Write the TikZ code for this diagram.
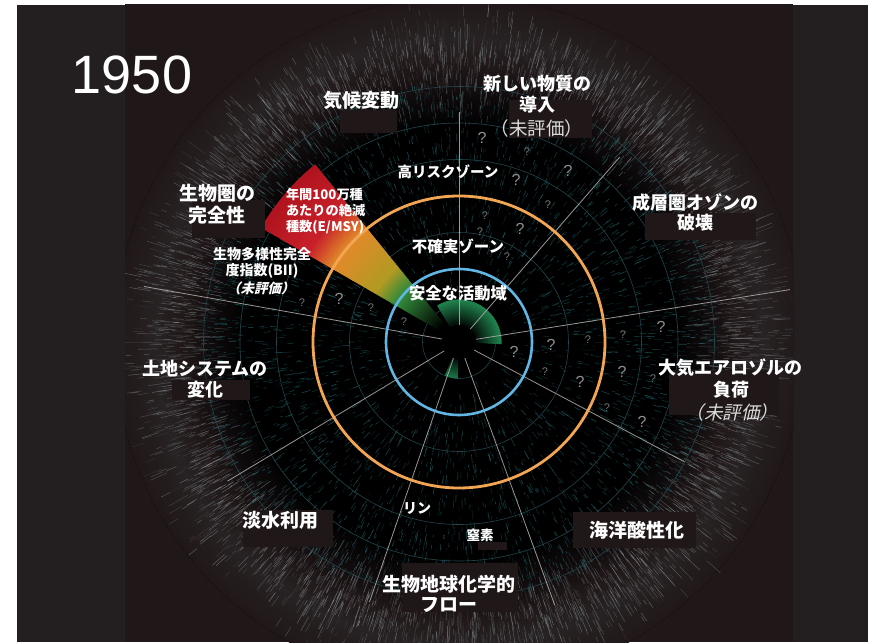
\documentclass[tikz,border=0pt]{standalone}
\usepackage{fontspec}
\newfontfamily\jp[AutoFakeSlant=0.22]{Noto Sans CJK JP}
\newfontfamily\lsans{Liberation Sans}
\definecolor{bgc}{HTML}{201718}
\definecolor{sidec}{HTML}{231F20}
\definecolor{darkc}{HTML}{0F0B0C}
\definecolor{hazec}{HTML}{272223}
\definecolor{blue1}{HTML}{62B6E4}
\definecolor{orng}{HTML}{F2A654}
\definecolor{gridc}{HTML}{24454B}
\definecolor{linec}{HTML}{B4B0AE}
\definecolor{qc}{HTML}{8E8E8E}
\definecolor{qcs}{HTML}{767676}
\definecolor{teal1}{HTML}{2A8C96}
\definecolor{streakc}{HTML}{A8BABC}
\definecolor{subc}{HTML}{DCDCDC}
\definecolor{cG}{HTML}{328A3A}
\definecolor{cY}{HTML}{B39A22}
\definecolor{cO}{HTML}{E08A2A}
\definecolor{cR}{HTML}{C8202A}
\definecolor{cRR}{HTML}{B0141E}
\definecolor{gB}{HTML}{1F7F4C}
\definecolor{gBB}{HTML}{1A6E45}
\pgfdeclareradialshading{vign}{\pgfpoint{0bp}{0bp}}{color(0bp)=(black); color(15.5bp)=(black); color(18bp)=(darkc); color(20bp)=(bgc); color(22bp)=(hazec); color(25bp)=(bgc); color(50bp)=(bgc)}
% #1 a1, #2 a2, #3 r0, #4 r1, #5 steps, #6 c0, #7 c1
\newcommand\gradseg[7]{%
  \foreach \k in {0,...,#5}{%
    \pgfmathsetmacro\ra{#3+(#4-#3)*\k/(#5+1)}%
    \pgfmathsetmacro\rb{#3+(#4-#3)*(\k+1)/(#5+1)+0.6}%
    \pgfmathtruncatemacro\pp{100*\k/#5}%
    \fill[#7!\pp!#6] (#1:\ra) arc[start angle=#1,end angle=#2,radius=\ra] -- (#2:\rb) arc[start angle=#2,end angle=#1,radius=\rb] -- cycle;
  }}
\tikzset{
  every node/.style={inner sep=0pt, outer sep=0pt},
  big/.style={text=white, font=\jp\bfseries\fontsize{18}{18}\selectfont},
  bigg/.style={text=white, font=\jp\bfseries\fontsize{19}{19}\selectfont},
  zone/.style={text=white, font=\jp\bfseries\fontsize{#1}{#1}\selectfont},
  smallb/.style={text=white, font=\jp\bfseries\fontsize{#1}{#1}\selectfont},
  sub/.style={text=subc, font=\jp\fontsize{18.5}{18.5}\selectfont},
  subit/.style={text=subc, font=\jp\itshape\fontsize{18.5}{18.5}\selectfont},
  qL/.style={text=qc, font=\lsans\fontsize{16}{16}\selectfont},
  qS/.style={text=qcs, font=\lsans\fontsize{11}{11}\selectfont},
  rline/.style={linec, line width=0.8pt, draw opacity=0.85},
  gridcirc/.style={gridc, line width=0.6pt},
}
\begin{document}
\begin{tikzpicture}[x=1pt,y=1pt]
\useasboundingbox (0,0) rectangle (876,-643);
\fill[white] (0,0) rectangle (876,-643);
% panels
\fill[sidec] (17,-5) rectangle (125,-642);
\fill[bgc] (125,-4) rectangle (793,-642);
\fill[sidec] (793,-5) rectangle (868,-642);
% texture
\begin{scope}
\clip (125,-4) rectangle (793,-642);
\begin{scope}[shift={(459,-342)}]
\fill[shading=vign] (0,0) circle (345);
\pgfmathsetseed{4242}
\foreach \i in {1,...,5000}{%
  \pgfmathsetmacro\a{360*rnd}%
  \pgfmathsetmacro\r{212+43*(rnd+rnd+rnd)}%
  \pgfmathsetmacro\l{5+22*rnd*rnd}%
  \pgfmathsetmacro\o{0.07+0.38*rnd}%
  \draw[streakc, line width=0.5pt, draw opacity=\o] (\a:\r) -- (\a:{\r+\l});
}
\foreach \i in {1,...,3800}{%
  \pgfmathsetmacro\a{360*rnd}%
  \pgfmathsetmacro\r{35+222*sqrt(rnd)}%
  \pgfmathsetmacro\l{2+7*rnd}%
  \pgfmathsetmacro\o{0.14+0.42*rnd}%
  \draw[teal1, line width=0.55pt, draw opacity=\o] (\a:\r) -- (\a:{\r+\l});
}
\end{scope}
\end{scope}
% diagram
\begin{scope}[shift={(459,-342)}]
\foreach \rr in {36.5,109.5,182.5,219,255.5} \draw[gridcirc] (0,0) circle (\rr);
% green safe areas
\gradseg{-3}{121}{14}{42}{12}{black}{gB}
\gradseg{-113}{-92}{14}{36}{10}{black}{gBB}
% E/MSY wedge
\gradseg{129}{150}{22}{73}{20}{black}{cG}
\gradseg{129}{150}{73}{98}{10}{cG}{cY}
\gradseg{129}{150}{98}{145}{18}{cY}{cO}
\gradseg{129}{150}{145}{176}{12}{cO}{cR}
\gradseg{129}{150}{176}{228}{16}{cR}{cRR}
% radial lines
\foreach \ang/\len in {90/230, 49/245, 9/335, -28/255, -70/280, -109/275, -149/270, 170/320}
  \draw[rline] (\ang:17) -- (\ang:\len);
\draw[blue1, line width=2.6pt] (0,0) circle (73);
\draw[orng, line width=2.8pt] (0,0) circle (146);
\fill[black] (0,0) circle (17);
\end{scope}
% question marks
\node[qL] (q1) at (482,-138) {?};
\node[qS] (q2) at (527,-152) {?};
\node[qL] (q3) at (568,-171) {?};
\node[qL] (q4) at (516,-180) {?};
\node[qS] (q5) at (548,-205) {?};
\node[qS] (q6) at (485,-216) {?};
\node[qL] (q7) at (520,-229) {?};
\node[qS] (q8) at (507,-257) {?};
\node[qS] (q9) at (480,-232) {?};
\node[qL] (q10) at (661,-327) {?};
\node[qS] (q11) at (623,-335) {?};
\node[qS] (q12) at (588,-340) {?};
\node[qL] (q13) at (551,-345) {?};
\node[qL] (q14) at (514,-352) {?};
\node[qS] (q15) at (545,-372) {?};
\node[qL] (q16) at (580,-382) {?};
\node[qL] (q17) at (622,-372) {?};
\node[qS] (q18) at (653,-379) {?};
\node[qS] (q19) at (607,-408) {?};
\node[qL] (q20) at (642,-422) {?};
\node[qS] (q21) at (302,-303) {?};
\node[qL] (q22) at (339,-299) {?};
\node[qS] (q23) at (371,-308) {?};
\node[qS] (q24) at (404,-322) {?};
% label backing blocks
\fill[bgc] (340,-110) rectangle (397,-133);
\fill[bgc] (509,-100) rectangle (592,-138);
\fill[bgc] (645,-213) rectangle (756,-240);
\fill[bgc] (192,-200) rectangle (265,-238);
\fill[bgc] (172,-380) rectangle (250,-400);
\fill[bgc] (243,-510) rectangle (333,-547);
\fill[bgc] (478,-542) rectangle (507,-550);
\fill[bgc] (402,-563) rectangle (518,-612);
\fill[bgc] (573,-512) rectangle (696,-548);
\fill[bgc] (669,-370) rectangle (779,-415);
% labels
\node[text=white, font=\lsans\fontsize{54}{54}\selectfont] (yr) at (132,-75) {1950};
\node[bigg] (cc) at (361,-100) {気候変動};
\node[big] (ne1) at (537,-84) {新しい物質の};
\node[big] (ne2) at (537,-105) {導入};
\node[sub] (ne3) at (537,-128) {（未評価）};
\node[zone=14.5] (hr) at (448,-172) {高リスクゾーン};
\node[zone=15.5] (uz) at (458,-246) {不確実ゾーン};
\node[zone=16.3] (sz) at (458,-293) {安全な活動域};
\node[big] (oz1) at (695,-203) {成層圏オゾンの};
\node[big] (oz2) at (695,-223) {破壊};
\node[bigg] (bi1) at (217,-193) {生物圏の};
\node[bigg] (bi2) at (217,-215) {完全性};
\node[smallb=13.2, anchor=west] (em1) at (286,-194) {年間100万種};
\node[smallb=13.2, anchor=west] (em2) at (286,-210) {あたりの絶滅};
\node[smallb=13.2, anchor=west] (em3) at (286,-227) {種数(E/MSY)};
\node[smallb=14] (bii1) at (262,-254) {生物多様性完全};
\node[smallb=14] (bii2) at (262,-271) {度指数(BII)};
\begin{scope}[shift={(262,-288)}, xslant=0.24]
\node[smallb=13.5, transform shape] (bii3) at (0,0) {（未評価）};
\end{scope}
\node[big] (ls1) at (205,-368) {土地システムの};
\node[big] (ls2) at (205,-390) {変化};
\node[bigg] (fw) at (280,-520) {淡水利用};
\node[smallb=14] (pp) at (417,-508) {リン};
\node[smallb=13.5] (nn) at (480,-535) {窒素};
\node[bigg] (bg1) at (449,-584) {生物地球化学的};
\node[bigg] (bg2) at (449,-605) {フロー};
\node[bigg] (oa) at (637,-530) {海洋酸性化};
\node[big] (ae1) at (730,-368) {大気エアロゾルの};
\node[big] (ae2) at (731,-390) {負荷};
\node[subit] (ae3) at (732,-412) {（未評価）};
\end{tikzpicture}
\end{document}
